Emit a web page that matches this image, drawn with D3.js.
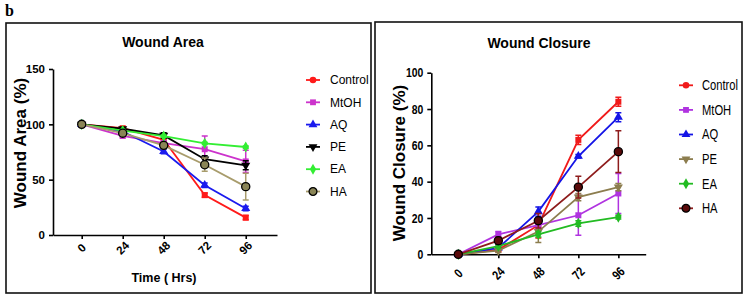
<!DOCTYPE html>
<html>
<head>
<meta charset="utf-8">
<script src="https://cdn.jsdelivr.net/npm/d3@7"></script>
<style>
  body { margin: 0; background: #fff; }
  svg { display: block; font-family: "Liberation Sans", Arial, sans-serif; }
</style>
</head>
<body>
<script>
// time points (hours)
var times = [0, 24, 48, 72, 96];
var groups = ['Control', 'MtOH', 'AQ', 'PE', 'EA', 'HA'];

// wound area (%), with error bars
var areaControl = [100, 96.5, 86, 36, 15.7];
var areaMtOH    = [100, 89.5, 83, 77.5, 66.5];
var areaAQ      = [100, 93.5, 75.5, 45, 24];
var areaPE      = [100, 96, 90, 68.5, 63];
var areaEA      = [100, 94.3, 89.3, 82.8, 79.5];
var areaHA      = [100, 92, 81, 63.5, 43.7];
var areaControlErr = [0.5, 1, 1.5, 2, 2];
var areaMtOHErr    = [0.5, 1.5, 2, 12, 10];
var areaAQErr      = [0.5, 1, 2, 2, 2];
var areaPEErr      = [0.5, 1, 2.5, 3, 4];
var areaEAErr      = [0.5, 1, 1, 1, 1];
var areaHAErr      = [0.5, 2, 3, 6, 12];

// wound closure (%), with error bars
var closControl = [0, 2.5, 16, 63, 84];
var closMtOH    = [0, 11, 16, 21.5, 33.5];
var closAQ      = [0, 3.5, 23.5, 54, 75.5];
var closPE      = [0, 2, 12.5, 31.5, 37];
var closEA      = [0, 4.5, 11, 17, 20.5];
var closHA      = [0, 7.5, 18.5, 37, 56.5];
var closControlErr = [0.5, 1, 7, 2.5, 2.5];
var closMtOHErr    = [0.5, 1.5, 2, 11, 11];
var closAQErr      = [0.5, 1, 2.5, 1, 2.5];
var closPEErr      = [0.5, 1, 6, 2, 2];
var closEAErr      = [0.5, 1, 1.5, 1.5, 1];
var closHAErr      = [0.5, 2, 4, 6, 11.5];

var areaTicks = [0, 50, 100, 150];
var closTicks = [0, 20, 40, 60, 80, 100];

var svg = d3.select('body').append('svg')
  .attr('width', 749)
  .attr('height', 300);

svg.append('text')
  .attr('x', 5).attr('y', 16)
  .style('font-family', '"Liberation Serif", "Times New Roman", serif')
  .style('font-weight', 'bold')
  .style('font-size', '16px')
  .text('b');

// symbol per group (plot, legend)
var symbols = {
  Control: [d3.symbolSquare, d3.symbolCircle],
  MtOH: [d3.symbolSquare, d3.symbolSquare],
  AQ: [d3.symbolTriangle, d3.symbolTriangle],
  PE: ['down', 'down'],
  EA: [d3.symbolDiamond, d3.symbolDiamond],
  HA: [d3.symbolCircle, d3.symbolCircle]
};

function marker(g, sym, size, fill, stroke) {
  var down = sym === 'down';
  var p = g.append('path')
    .attr('d', d3.symbol().type(down ? d3.symbolTriangle : sym).size(size)())
    .style('fill', fill)
    .style('stroke', stroke || 'none')
    .style('stroke-width', stroke ? 1.3 : 0);
  if (down) p.attr('transform', 'rotate(180)');
  return p;
}

function drawPanel(o) {
  var sq = o.squeeze;
  svg.append('rect')
    .attr('x', o.box[0]).attr('y', o.box[1])
    .attr('width', o.box[2]).attr('height', o.box[3])
    .style('fill', 'none').style('stroke', '#111').style('stroke-width', 1.6);

  var x = d3.scaleLinear().domain(o.xDomain).range(o.xRange);
  var y = d3.scaleLinear().domain(o.yDomain).range(o.yRange);
  var g = svg.append('g');

  svg.append('text')
    .attr('x', o.titleX).attr('y', o.titleY)
    .style('text-anchor', 'middle')
    .style('font-weight', 'bold').style('font-size', '14px')
    .text(o.title);

  // y axis
  var ya = g.append('g')
    .attr('transform', 'translate(' + o.xRange[0] + ',0)')
    .call(d3.axisLeft(y).tickValues(o.yTicks).tickSize(4).tickSizeOuter(0).tickPadding(4));
  ya.selectAll('text')
    .attr('x', -8 / sq)
    .attr('transform', 'scale(' + sq + ',1)')
    .style('font-weight', 'bold').style('font-size', o.tickFont).style('fill', '#000');

  // x axis
  g.append('g')
    .attr('transform', 'translate(0,' + o.yRange[0] + ')')
    .call(d3.axisBottom(x).tickValues(times).tickSize(4).tickSizeOuter(0).tickFormat(''));
  g.selectAll('.domain, .tick line').style('stroke', '#000').style('stroke-width', 1.6);

  g.append('g').selectAll('text')
    .data(times)
    .join('text')
    .attr('transform', function (d) {
      return 'translate(' + x(d) + ',' + (o.yRange[0] + o.xLabOff) + ') rotate(-45) scale(' + sq + ',1)';
    })
    .attr('dy', '0.35em')
    .style('text-anchor', 'middle')
    .style('font-weight', 'bold').style('font-size', o.tickFont)
    .text(function (d) { return d; });

  g.append('text')
    .attr('transform', 'translate(' + o.yLabX + ',' + o.yLabY + ') rotate(-90)')
    .style('text-anchor', 'middle')
    .style('font-weight', 'bold').style('font-size', '17px')
    .text(o.yLabel);

  if (o.xLabel) {
    g.append('text')
      .attr('x', o.xLabX).attr('y', o.xLabY)
      .style('text-anchor', 'middle')
      .style('font-weight', 'bold').style('font-size', '12.5px')
      .text(o.xLabel);
  }

  var line = d3.line()
    .x(function (d, i) { return x(times[i]); })
    .y(function (d) { return y(d); });

  groups.forEach(function (name, k) {
    var s = o.series[k], c = o.colors[k];
    var sg = g.append('g');
    sg.append('path')
      .datum(s.values)
      .attr('d', line)
      .style('fill', 'none').style('stroke', c.line).style('stroke-width', 1.8);

    // error bars
    sg.selectAll('.err')
      .data(s.values)
      .join('path')
      .attr('d', function (d, i) {
        var e = s.err[i], xx = x(times[i]), y0 = y(d - e), y1 = y(d + e);
        return 'M' + xx + ',' + y0 + 'V' + y1 + 'M' + (xx - 3) + ',' + y0 + 'H' + (xx + 3) + 'M' + (xx - 3) + ',' + y1 + 'H' + (xx + 3);
      })
      .style('fill', 'none').style('stroke', c.line).style('stroke-width', 1.5);

    s.values.forEach(function (d, i) {
      var mg = sg.append('g').attr('transform', 'translate(' + x(times[i]) + ',' + y(d) + ')');
      marker(mg, symbols[name][0], name === 'HA' ? 52 : 36, c.fill, c.stroke);
    });
  });

  // legend
  var lg = svg.append('g');
  groups.forEach(function (name, k) {
    var c = o.colors[k];
    var row = lg.append('g').attr('transform', 'translate(' + o.legX + ',' + (o.legY + k * o.legStep) + ')');
    row.append('line')
      .attr('x1', -7).attr('x2', 7)
      .style('stroke', c.line).style('stroke-width', 1.8);
    marker(row, symbols[name][1], name === 'HA' ? 48 : 34, c.fill, c.stroke);
    row.append('text')
      .attr('transform', 'translate(' + o.legText + ',0) scale(' + sq + ',1)')
      .attr('dy', '0.35em')
      .style('font-size', o.legFont)
      .text(name);
  });
}

drawPanel({
  box: [6, 23, 365, 270],
  title: 'Wound Area', titleX: 163, titleY: 47,
  xDomain: [-16.8, 114.3], xRange: [53, 277],
  yDomain: [0, 150], yRange: [235, 69],
  yTicks: areaTicks, tickFont: '11.5px', xLabOff: 13, squeeze: 1,
  yLabel: 'Wound Area (%)', yLabX: 26, yLabY: 143,
  xLabel: 'Time ( Hrs)', xLabX: 164, xLabY: 282,
  legX: 313, legY: 80, legStep: 22.3, legText: 17, legFont: '12px',
  series: [
    { values: areaControl, err: areaControlErr },
    { values: areaMtOH, err: areaMtOHErr },
    { values: areaAQ, err: areaAQErr },
    { values: areaPE, err: areaPEErr },
    { values: areaEA, err: areaEAErr },
    { values: areaHA, err: areaHAErr }
  ],
  colors: [
    { line: '#ff1a1a', fill: '#ff1a1a' },
    { line: '#cc33cc', fill: '#cc33cc' },
    { line: '#1a1aee', fill: '#1a1aee' },
    { line: '#000000', fill: '#000000' },
    { line: '#33ee33', fill: '#33ee33' },
    { line: '#a89c6c', fill: '#8a8556', stroke: '#000' }
  ]
});

drawPanel({
  box: [375, 22, 367, 271],
  title: 'Wound Closure', titleX: 539, titleY: 48,
  xDomain: [-16.2, 112.4], xRange: [431.3, 645.7],
  yDomain: [0, 100], yRange: [254.3, 72.7],
  yTicks: closTicks, tickFont: '13px', xLabOff: 19, squeeze: 0.8,
  yLabel: 'Wound Closure (%)', yLabX: 405, yLabY: 163,
  xLabel: null,
  legX: 686, legY: 85.3, legStep: 24.6, legText: 16, legFont: '14px',
  series: [
    { values: closControl, err: closControlErr },
    { values: closMtOH, err: closMtOHErr },
    { values: closAQ, err: closAQErr },
    { values: closPE, err: closPEErr },
    { values: closEA, err: closEAErr },
    { values: closHA, err: closHAErr }
  ],
  colors: [
    { line: '#f01a1a', fill: '#f01a1a' },
    { line: '#b033e0', fill: '#b033e0' },
    { line: '#1414e6', fill: '#1414e6' },
    { line: '#8c7d4e', fill: '#8c7d4e' },
    { line: '#22bb22', fill: '#22bb22' },
    { line: '#8e1c1c', fill: '#5a0a0a', stroke: '#000' }
  ]
});
</script>
</body>
</html>
